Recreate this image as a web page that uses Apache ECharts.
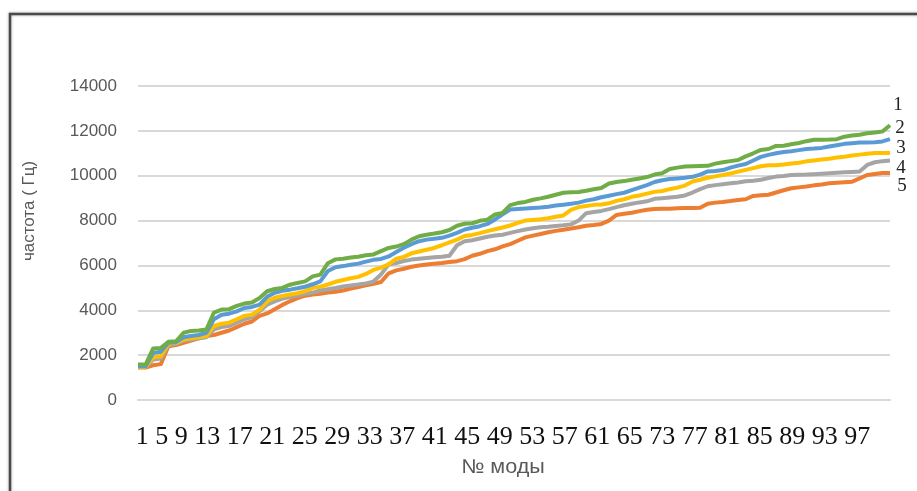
<!DOCTYPE html>
<html>
<head>
<meta charset="utf-8">
<script src="https://cdn.jsdelivr.net/npm/echarts@6/dist/echarts.min.js"></script>
<style>
html,body{margin:0;padding:0;background:#fff;}
#chart{width:917px;height:491px;}
</style>
</head>
<body>
<div id="chart"></div>
<script>
// Categories: mode numbers 1..100
const modes = [];
for (let i = 1; i <= 100; i++) modes.push(String(i));

// Tick labels as printed under the chart
const tickLabels = ["1","5","9","13","17","21","25","29","33","37","41","45","49","53","57","61","65","73","77","81","85","89","93","97"];

const seriesNames = ["1","2","3","4","5"];

const s1 = [1580,1580,2300,2320,2600,2620,3000,3080,3100,3140,
3900,4030,4050,4200,4300,4350,4550,4850,4950,5000,
5140,5220,5290,5510,5590,6100,6270,6300,6350,6390,
6450,6490,6640,6780,6840,6950,7150,7300,7370,7420,
7480,7580,7770,7860,7880,7990,8040,8270,8340,8690,
8780,8830,8930,8990,9060,9150,9240,9260,9270,9330,
9400,9450,9650,9720,9760,9820,9880,9940,10050,10110,
10300,10360,10410,10420,10430,10440,10540,10600,10650,10700,
10860,11000,11150,11190,11330,11340,11400,11460,11540,11600,
11600,11610,11630,11740,11790,11830,11890,11930,11970,12250];

const s2 = [1500,1500,2100,2150,2550,2580,2800,2850,2900,3000,
3600,3800,3850,3950,4100,4150,4250,4600,4780,4870,
4920,4980,5050,5160,5290,5750,5920,5970,6030,6080,
6170,6250,6290,6400,6600,6790,6950,7080,7150,7190,
7230,7330,7450,7600,7680,7750,7850,8050,8280,8490,
8520,8540,8560,8580,8620,8670,8710,8750,8800,8890,
8950,9040,9110,9180,9240,9360,9470,9580,9720,9800,
9850,9880,9910,9950,10050,10190,10210,10250,10360,10450,
10520,10680,10840,10930,11000,11060,11090,11140,11190,11210,
11240,11300,11360,11420,11450,11480,11480,11490,11530,11630];

const s3 = [1480,1480,1900,1950,2500,2550,2700,2750,2800,2850,
3300,3400,3450,3600,3750,3800,4030,4400,4560,4640,
4700,4760,4850,5000,5050,5150,5270,5350,5430,5490,
5620,5800,5900,6050,6300,6380,6540,6620,6700,6780,
6900,7030,7150,7310,7360,7440,7530,7610,7690,7780,
7900,8000,8030,8060,8100,8170,8230,8480,8600,8650,
8700,8720,8770,8880,8950,9060,9120,9200,9280,9320,
9400,9470,9560,9740,9820,9910,9970,10030,10100,10180,
10260,10340,10420,10470,10470,10500,10540,10580,10640,10680,
10720,10760,10810,10850,10900,10940,10980,11010,11010,11010];

const s4 = [1480,1470,1800,1850,2450,2500,2650,2700,2750,2800,
3150,3250,3300,3450,3600,3700,3960,4250,4400,4520,
4590,4660,4720,4790,4880,4940,4990,5060,5110,5150,
5200,5280,5600,6050,6110,6200,6260,6300,6330,6360,
6390,6430,6900,7080,7120,7200,7280,7330,7370,7450,
7530,7600,7660,7700,7720,7760,7790,7830,8000,8330,
8380,8430,8510,8600,8680,8750,8810,8860,8970,9000,
9030,9060,9120,9250,9400,9530,9580,9620,9660,9700,
9750,9780,9820,9900,9960,9990,10030,10040,10050,10070,
10090,10110,10130,10150,10170,10190,10480,10600,10650,10680];

const s5 = [1450,1450,1550,1600,2400,2450,2550,2650,2750,2850,
2900,3000,3100,3250,3400,3500,3750,3860,4050,4240,
4400,4540,4650,4700,4740,4790,4830,4880,4970,5040,
5110,5180,5260,5650,5780,5850,5940,6000,6040,6080,
6110,6150,6190,6280,6430,6520,6640,6720,6850,6950,
7100,7250,7330,7400,7480,7540,7590,7650,7700,7770,
7800,7850,8000,8250,8300,8350,8420,8480,8520,8530,
8530,8550,8560,8560,8570,8750,8800,8830,8870,8920,
8950,9100,9130,9150,9250,9350,9440,9480,9520,9570,
9610,9660,9690,9710,9730,9880,10030,10080,10120,10120];

const colors = ['#70AD47','#5B9BD5','#FFC000','#A5A5A5','#ED7D31'];
const values = [s1,s2,s3,s4,s5];

const chart = echarts.init(document.getElementById('chart'), null, {renderer:'canvas'});

const series = [];
for (let k = 4; k >= 0; k--) {
  series.push({
    name: seriesNames[k],
    type: 'line',
    data: values[k],
    symbol: 'none',
    smooth: false,
    lineStyle: {color: colors[k], width: 4, join: 'round'},
    itemStyle: {color: colors[k]},
    z: 10 - k
  });
}

const labelPos = [[898,105],[900,128],[901,148],[901,168],[902,186]];
const graphics = [
  {type:'rect', shape:{x:10,y:14,width:930,height:500}, style:{fill:null, stroke:'#4a4a4a', lineWidth:2.5, shadowBlur:3, shadowColor:'rgba(0,0,0,0.35)'}, silent:true},
  {type:'text', x:29, y:211, rotation:Math.PI/2, style:{text:'частота ( Гц)', fill:'#595959', font:'17px "Liberation Sans", sans-serif', align:'center', verticalAlign:'middle'}},
  {type:'text', x:503, y:467, scaleX:1.08, style:{text:'№ моды', fill:'#595959', font:'20px "Liberation Sans", sans-serif', align:'center', verticalAlign:'middle'}},
  {type:'text', x:503, y:437, style:{text:tickLabels.join(' '), fill:'#111', font:'26px "Liberation Serif", serif', align:'center', verticalAlign:'middle'}}
];
for (let k = 0; k < 5; k++) {
  graphics.push({type:'text', x:labelPos[k][0], y:labelPos[k][1], style:{text:seriesNames[k], fill:'#222', font:'19px "Liberation Serif", serif', align:'center', verticalAlign:'middle'}});
}

chart.setOption({
  animation: false,
  backgroundColor: '#fff',
  grid: {left:138, right:27, top:86, bottom:91, containLabel:false},
  xAxis: {
    type:'category', data: modes, boundaryGap:false,
    axisLine:{show:true, lineStyle:{color:'#d9d9d9', width:2}},
    axisTick:{show:false}, axisLabel:{show:false}, splitLine:{show:false}
  },
  yAxis: {
    type:'value', min:0, max:14000, interval:2000,
    axisLine:{show:false}, axisTick:{show:false},
    axisLabel:{color:'#595959', fontSize:17, fontFamily:'Liberation Sans', margin:21, formatter: function(v){ return String(v); }},
    splitLine:{show:true, lineStyle:{color:'#d9d9d9', width:2}}
  },
  series: series,
  graphic: graphics
});
</script>
</body>
</html>
